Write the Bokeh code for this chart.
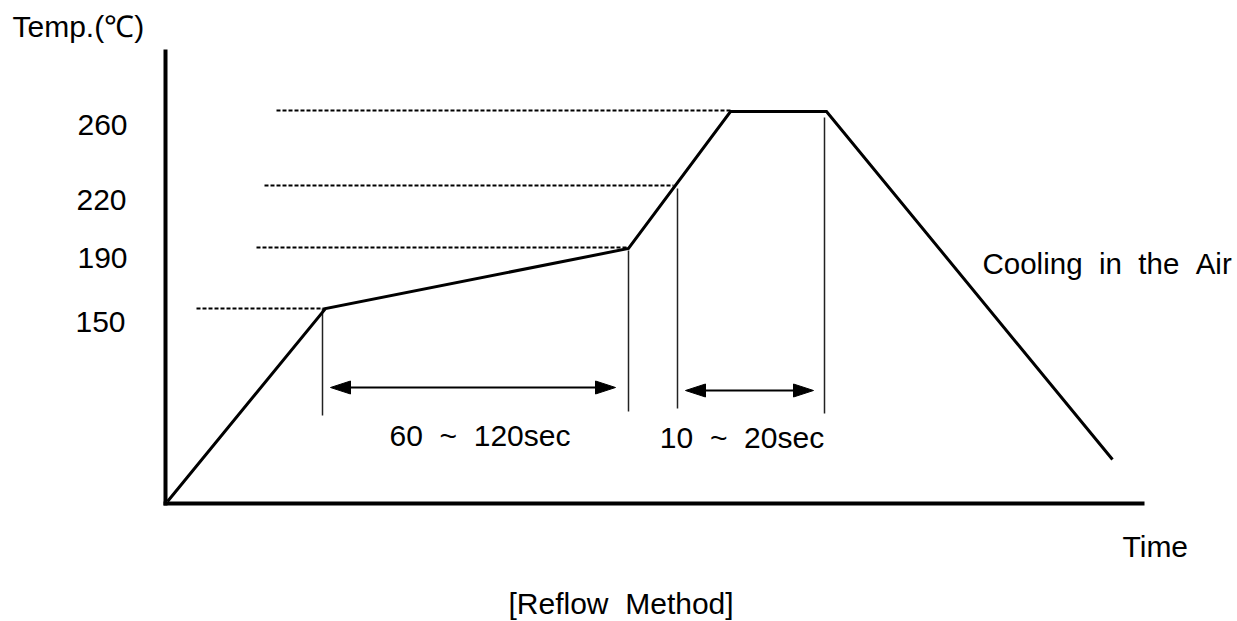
from bokeh.plotting import figure
from bokeh.models import Range1d
from bokeh.core.properties import value
from bokeh.embed import file_html
from bokeh.resources import INLINE

# ---- schematic reflow profile (time units, temperature level units) ----
profile_time = [2, 160, 463, 565, 661, 947]
profile_level = [2, 195, 255, 392, 392, 44]

# temperature reference levels
temp_labels = ["150", "190", "220", "260"]
temp_levels = [195, 256, 318, 393]
guide_start = [31, 91, 99, 111]
guide_end = [160, 463, 508, 565]
label_baseline = [182, 246, 304, 379]
label_right = [-40, -38, -39, -38]

# vertical time markers
marker_time = [157, 463, 512, 659]
marker_top = [195, 253, 315, 386]
marker_bottom = [88, 92, 95, 90]

# time spans
NB = "\u00a0\u00a0"
span_labels = ["60" + NB + "~" + NB + "120sec", "10" + NB + "~" + NB + "20sec"]
span_start = [165, 520]
span_end = [450, 648]
span_level = [116, 113]
span_label_center = [314.5, 576.5]
span_label_base = [68, 66]

# axis extents
axis_time_max = 979
axis_level_max = 454

FONT = value("Liberation Sans")
FS = "30px"

p = figure(width=1237, height=621, output_backend="svg", toolbar_location=None,
           x_range=Range1d(-165, 1072), y_range=Range1d(-118, 503),
           x_axis_type=None, y_axis_type=None, min_border=0,
           outline_line_color=None, background_fill_color="white",
           border_fill_color="white")
p.grid.visible = False

# axes
p.segment(x0=[0, -2], y0=[-2, 0], x1=[0, axis_time_max], y1=[axis_level_max, 0],
          line_color="black", line_width=4, line_cap="butt")

# dotted guides
p.segment(x0=guide_start, y0=temp_levels, x1=guide_end, y1=temp_levels,
          line_color="black", line_width=2, line_dash="4 2")

# vertical markers
p.segment(x0=marker_time, y0=marker_bottom, x1=marker_time, y1=marker_top,
          line_color="#222222", line_width=1.5)

# profile
p.line(profile_time, profile_level, line_color="black", line_width=3,
       line_join="miter")

# span arrows
head_len, head_half = 20, 6.5
p.segment(x0=[s + head_len for s in span_start], y0=span_level,
          x1=[e - head_len for e in span_end], y1=span_level,
          line_color="black", line_width=2)
xs, ys = [], []
for s, e, l in zip(span_start, span_end, span_level):
    xs.append([s, s + head_len, s + head_len])
    ys.append([l, l + head_half, l - head_half])
    xs.append([e, e - head_len, e - head_len])
    ys.append([l, l + head_half, l - head_half])
p.patches(xs, ys, fill_color="black", line_color="black", line_width=1)

# temperature labels
p.text(x=label_right, y=label_baseline, text=temp_labels, text_font=FONT,
       text_font_size=FS, text_align="right", text_baseline="alphabetic",
       text_color="black")

# span labels
p.text(x=span_label_center, y=span_label_base, text=span_labels, text_font=FONT,
       text_font_size=FS, text_align="center", text_baseline="alphabetic",
       text_color="black")

# other texts
other_text = ["Temp.(\u2103)", "Time", "[Reflow" + NB + "Method]"]
other_x = [-153, 957, 343]
other_y = [477, -43, -100]
p.text(x=other_x, y=other_y, text=other_text, text_font=FONT, text_font_size=FS,
       text_align="left", text_baseline="alphabetic", text_color="black")

cooling_text = ["Cooling" + NB + "in" + NB + "the" + NB + "Air"]
p.text(x=[817], y=[240], text=cooling_text, text_font=FONT, text_font_size="29.5px",
       text_align="left", text_baseline="alphabetic", text_color="black")

open("out.html", "w").write(file_html(p, INLINE))
